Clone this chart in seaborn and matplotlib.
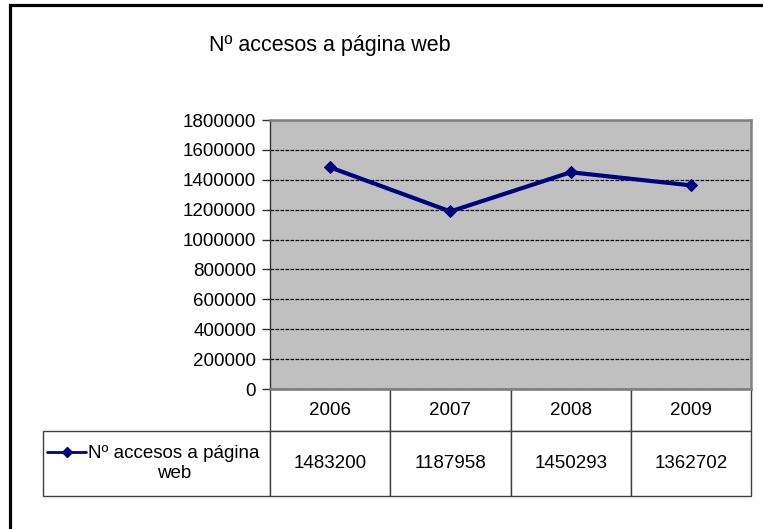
import matplotlib
matplotlib.use("Agg")
import matplotlib.pyplot as plt
import seaborn as sns
import pandas as pd
from matplotlib.lines import Line2D
from matplotlib.patches import Rectangle
from matplotlib.ticker import FuncFormatter

# Datos del gráfico
years = ["2006", "2007", "2008", "2009"]
accesos = [1483200, 1187958, 1450293, 1362702]
y_ticks = [0, 200000, 400000, 600000, 800000, 1000000, 1200000, 1400000, 1600000, 1800000]
serie = "Nº accesos a página\nweb"
titulo = "Nº accesos a página web"

df = pd.DataFrame({"year": years, "accesos": accesos})

sns.set_theme(style="white")
plt.rcParams["font.family"] = ["Liberation Sans", "DejaVu Sans"]
plt.rcParams["text.color"] = "black"

navy = "#000080"
fs = 13.5

fig = plt.figure(figsize=(7.63, 5.29), dpi=100)
ax = fig.add_axes([270 / 763, 1 - 389 / 529, 481 / 763, 269 / 529])
ax.set_facecolor("#C0C0C0")

sns.lineplot(data=df, x="year", y="accesos", ax=ax, color=navy, linewidth=3,
             marker="D", markersize=6, markeredgecolor=navy, sort=False)

ax.set_xlim(-0.5, 3.5)
ax.set_ylim(0, 1800000)
ax.set_yticks(y_ticks)
ax.yaxis.set_major_formatter(FuncFormatter(lambda v, p: f"{v:.0f}"))
ax.set_xticks([])
ax.set_xlabel("")
ax.set_ylabel("")
ax.tick_params(axis="y", labelsize=fs, length=6, width=1, color="#303030",
               left=True, pad=4, labelcolor="black")
ax.yaxis.grid(True, linestyle=(0, (3, 1)), color="#101010", linewidth=0.9)
ax.set_axisbelow(True)
for s in ax.spines.values():
    s.set_color("#808080")
    s.set_linewidth(1.8)
ax.spines["left"].set_color("#303030")
ax.spines["left"].set_linewidth(1)

# Tabla de datos bajo el gráfico
cells = [[""] + years, [""] + [str(v) for v in accesos]]
tab = ax.table(cellText=cells, cellLoc="center",
               colWidths=[0.472] + [0.25] * 4,
               bbox=[-0.472, -0.398, 1.472, 0.398])
tab.auto_set_font_size(False)
tab.set_fontsize(fs)
for (r, c), cell in tab.get_celld().items():
    cell.set_edgecolor("#404040")
    cell.set_linewidth(1)
    cell.set_height(42 if r == 0 else 65)
    cell.set_facecolor("white")
    cell.get_text().set_color("black")
tab[0, 0].visible_edges = ""

# Leyenda dentro de la tabla
handle = Line2D([], [], color=navy, linewidth=2, marker="D", markersize=5)
leg = ax.legend(handles=[handle], labels=[serie],
                loc="center left", bbox_to_anchor=(-0.4636, -0.277),
                frameon=False, fontsize=fs, handlelength=2.1, handletextpad=0.1,
                borderpad=0, borderaxespad=0)
leg.get_texts()[0].set_multialignment("center")
leg.get_texts()[0].set_color("black")
for col in leg._legend_handle_box.get_children():
    for item in col.get_children():
        item.align = "top"

fig.text(330 / 763, 1 - 45 / 529, titulo, ha="center", va="center",
         fontsize=15.5, color="black")

# Marco exterior
fig.add_artist(Rectangle((9.5 / 763, -0.2), 1.2, 1 - 4.5 / 529 + 0.2,
                         transform=fig.transFigure, fill=False,
                         edgecolor="black", linewidth=2.3))

fig.savefig("out.png", dpi=100)
